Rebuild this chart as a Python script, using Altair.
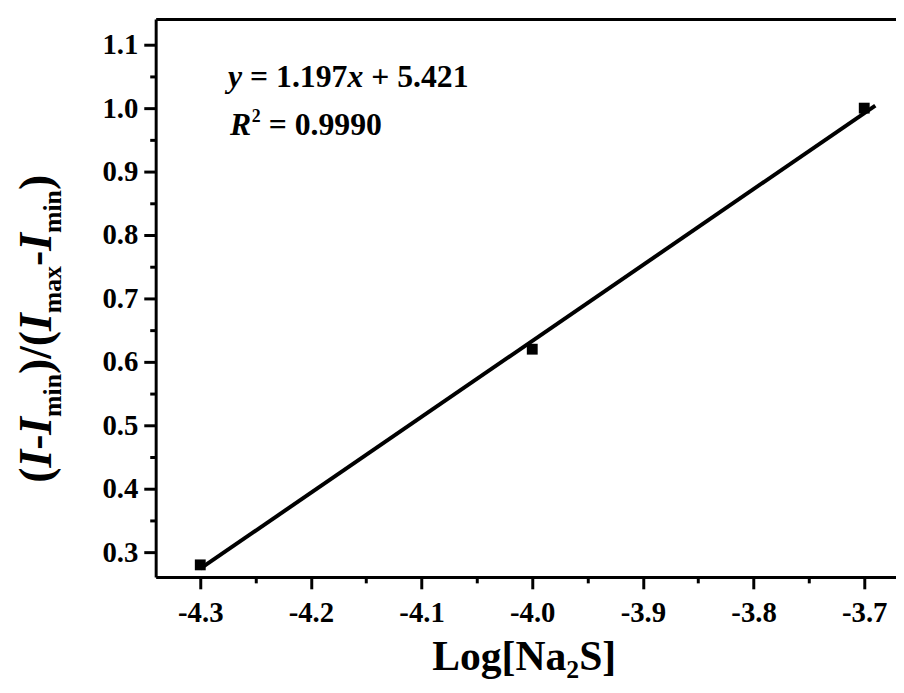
import altair as alt
import pandas as pd

# ---- data ----
x_vals = [-4.3, -4.0, -3.7]
y_vals = [0.28, 0.62, 1.0]
fit_x = [-4.3, -3.69]
fit_y = [0.274, 1.004]
x_ticks = [-4.3, -4.2, -4.1, -4.0, -3.9, -3.8, -3.7]
x_minor = [-4.25, -4.15, -4.05, -3.95, -3.85, -3.75]
y_ticks = [0.3, 0.4, 0.5, 0.6, 0.7, 0.8, 0.9, 1.0, 1.1]
y_minor = [0.35, 0.45, 0.55, 0.65, 0.75, 0.85, 0.95, 1.05]
x_domain = [-4.3403, -3.6713]
y_domain = [0.261, 1.1406]

FONT = "Liberation Serif"
PLOT_W, PLOT_H = 747, 563

pts = pd.DataFrame({"x": x_vals, "y": y_vals})
fit = pd.DataFrame({"x": fit_x, "y": fit_y})

xs = alt.Scale(domain=x_domain, nice=False, zero=False)
ys = alt.Scale(domain=y_domain, nice=False, zero=False)

lbl = "replace(format(datum.value, '.1f'), '\u2212', '-')"
common = dict(grid=False, domainColor="black", tickColor="black", labelColor="black",
              domainWidth=3, tickWidth=3, title=None)
lab = dict(labelFont=FONT, labelFontWeight="bold", labelFontSize=29)

x_main = alt.Axis(values=x_ticks, labelExpr=lbl, tickSize=12, labelPadding=10,
                  orient="bottom", **lab, **common)
y_main = alt.Axis(values=y_ticks, labelExpr=lbl, tickSize=12, labelPadding=6,
                  orient="left", **lab, **common)
x_min = alt.Axis(values=x_minor, labels=False, domain=False, tickSize=6, orient="bottom", **common)
y_min = alt.Axis(values=y_minor, labels=False, domain=False, tickSize=6, orient="left", **common)
x_top = alt.Axis(labels=False, ticks=False, orient="top", **common)

line = alt.Chart(fit).mark_line(color="black", strokeWidth=4).encode(
    x=alt.X("x:Q", scale=xs, axis=x_main),
    y=alt.Y("y:Q", scale=ys, axis=y_main),
)
points = alt.Chart(pts).mark_point(shape="square", filled=True, color="black", size=120, opacity=1).encode(
    x=alt.X("x:Q", scale=xs, axis=x_min),
    y=alt.Y("y:Q", scale=ys, axis=y_min),
)
border = alt.Chart(pts).mark_point(opacity=0).encode(
    x=alt.X("x:Q", scale=xs, axis=x_top),
    y=alt.Y("y:Q", scale=ys, axis=None),
)
plot = alt.layer(line, points, border).resolve_axis(x="independent", y="independent")

# ---- rich-text annotations built from runs ----
W = {' ': 250, '(': 333, ')': 333, '-': 333, '.': 250, '/': 278, '=': 570, '+': 570,
     '[': 333, ']': 333, 'L': 667, 'N': 722, 'S': 556, 'a': 500, 'g': 500, 'i': 278,
     'm': 833, 'n': 556, 'o': 500, 'x': 500}
for d in "0123456789":
    W[d] = 500
WI = {'I': 389, 'R': 667, 'x': 500, 'y': 444}


def run_width(t, size, italic):
    tab = WI if italic else W
    return sum(tab.get(c, 500) for c in t) * size / 1000.0


def text_layer(t, x, y, size, italic, angle=0):
    kw = dict(text=t, font=FONT, fontSize=size, fontWeight="bold",
              fontStyle="italic" if italic else "normal", color="black",
              align="left", baseline="alphabetic")
    if angle:
        kw["angle"] = angle
    return alt.Chart(alt.Data(values=[{"k": 1}])).mark_text(**kw).encode(
        x=alt.value(x), y=alt.value(y))


def horizontal(runs, x0, y0):
    # run: (text, italic, size, dy, gap_before_in_em_of_size)
    layers = []
    x = x0
    for t, italic, size, dy, gap in runs:
        x += gap * size
        layers.append(text_layer(t, x, y0 + dy, size, italic))
        x += run_width(t, size, italic)
    return layers


def vertical(runs, x0, y0):
    layers = []
    y = y0
    for t, italic, size, dx in runs:
        layers.append(text_layer(t, x0 + dx, y, size, italic, angle=270))
        y -= run_width(t, size, italic)
    return layers


EQ = 32
SP = 0.25
eq1 = [("y", True, EQ, 0, 0), ("=", False, EQ, 0, SP), ("1.197", False, EQ, 0, SP),
       ("x", True, EQ, 0, 0), ("+", False, EQ, 0, SP), ("5.421", False, EQ, 0, SP)]
eq2 = [("R", True, EQ, 0, 0), ("2", False, 18, -13, 0.04), ("=", False, EQ, 0, SP),
       ("0.9990", False, EQ, 0, SP)]
xtitle = [("Log[Na", False, 42, 0, 0), ("2", False, 26, 8, 0), ("S]", False, 42, 0, 0)]
ytitle = [("(", False, 46, 0), ("I", True, 46, 0), ("-", False, 46, 0), ("I", True, 46, 0),
          ("min", False, 26, 10), (")/(", False, 46, 0), ("I", True, 46, 0),
          ("max", False, 26, 10), ("-", False, 46, 0), ("I", True, 46, 0),
          ("min", False, 26, 10), (")", False, 46, 0)]

annots = (horizontal(eq1, 73, 69) + horizontal(eq2, 75, 117)
          + horizontal(xtitle, 279, 657) + vertical(ytitle, -106, 468))

chart = alt.layer(plot, *annots).resolve_axis(
    x="independent", y="independent"
).properties(
    width=PLOT_W, height=PLOT_H,
    autosize=alt.AutoSizeParams(type="none"),
    padding={"left": 149, "top": 8, "right": 0, "bottom": 106},
    background="white",
).configure_view(stroke=None)

chart.save("out.html", embed_options={"renderer": "svg", "actions": False})
